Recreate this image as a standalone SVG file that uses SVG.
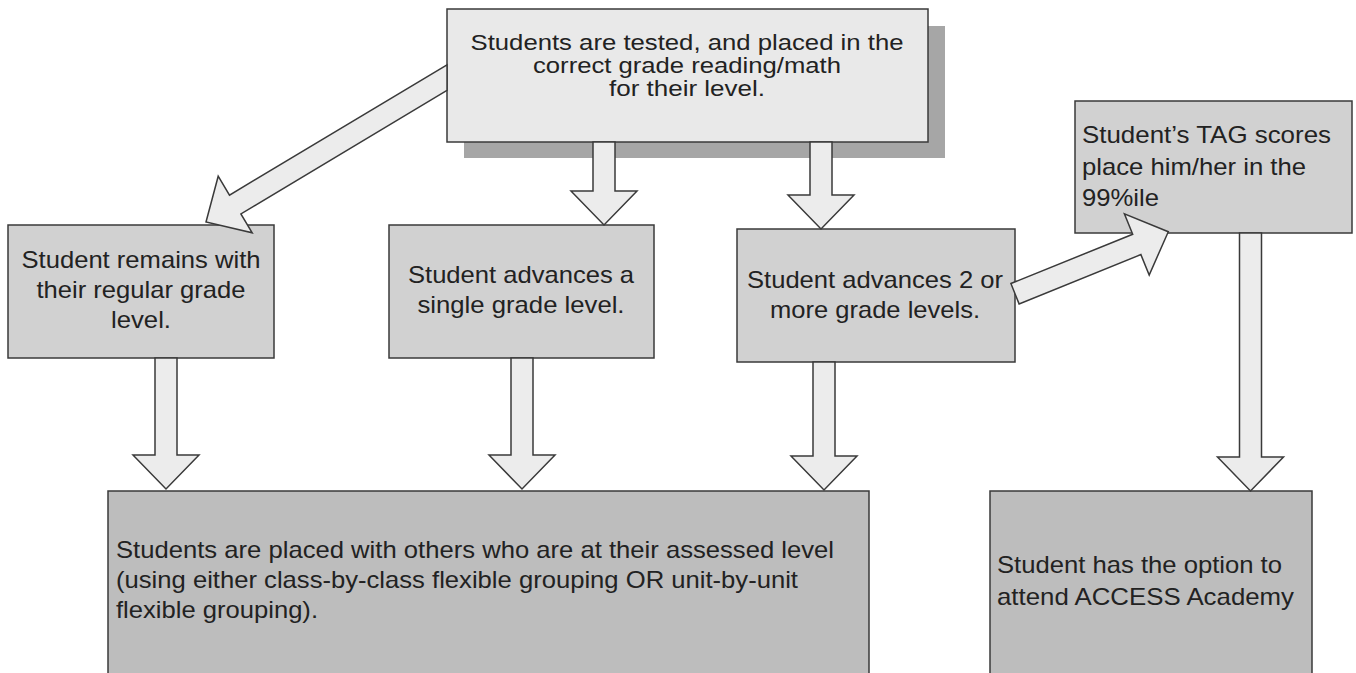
<svg xmlns="http://www.w3.org/2000/svg" width="1356" height="673" viewBox="0 0 1356 673">
<style>
.box{stroke:#3a3a3a;stroke-width:1.5}
.top{fill:#e9e9e9}
.mid{fill:#d1d1d1}
.low{fill:#bdbdbd}
.shadow{fill:#a6a6a6}
.arrow{fill:#ececec;stroke:#3a3a3a;stroke-width:1.5;stroke-linejoin:miter}
text{font-family:"Liberation Sans",Arial,sans-serif;font-size:24px;fill:#222}
.t22{font-size:22px}
.c{text-anchor:middle}
</style>
<rect width="1356" height="673" fill="#ffffff"/>
<g id="node-tested">
<rect class="shadow" x="464" y="26" width="481" height="132"/>
<rect class="box top" x="447" y="9" width="481" height="133"/>
<text class="t22 c" x="687" y="50" textLength="433" lengthAdjust="spacingAndGlyphs">Students are tested, and placed in the</text>
<text class="t22 c" x="687" y="73" textLength="308" lengthAdjust="spacingAndGlyphs">correct grade reading/math</text>
<text class="t22 c" x="687" y="96" textLength="156" lengthAdjust="spacingAndGlyphs">for their level.</text>
</g>
<g id="node-remains">
<rect class="box mid" x="8" y="225" width="266" height="133"/>
<text class="c" x="141" y="268" textLength="239" lengthAdjust="spacingAndGlyphs">Student remains with</text>
<text class="c" x="141" y="298" textLength="209" lengthAdjust="spacingAndGlyphs">their regular grade</text>
<text class="c" x="141" y="328" textLength="60" lengthAdjust="spacingAndGlyphs">level.</text>
</g>
<g id="node-single">
<rect class="box mid" x="389" y="225" width="265" height="133"/>
<text class="c" x="521" y="283" textLength="226" lengthAdjust="spacingAndGlyphs">Student advances a</text>
<text class="c" x="521" y="313" textLength="207" lengthAdjust="spacingAndGlyphs">single grade level.</text>
</g>
<g id="node-two">
<rect class="box mid" x="737" y="229" width="278" height="133"/>
<text class="c" x="875" y="288" textLength="256" lengthAdjust="spacingAndGlyphs">Student advances 2 or</text>
<text class="c" x="875" y="318" textLength="210" lengthAdjust="spacingAndGlyphs">more grade levels.</text>
</g>
<g id="node-tag">
<rect class="box mid" x="1075" y="101" width="277" height="132"/>
<text x="1082" y="143" textLength="249" lengthAdjust="spacingAndGlyphs">Student’s TAG scores</text>
<text x="1082" y="175" textLength="224" lengthAdjust="spacingAndGlyphs">place him/her in the</text>
<text x="1082" y="206" textLength="77" lengthAdjust="spacingAndGlyphs">99%ile</text>
</g>
<g id="node-placed">
<rect class="box low" x="108" y="491" width="761" height="190"/>
<text x="116" y="558" textLength="718" lengthAdjust="spacingAndGlyphs">Students are placed with others who are at their assessed level</text>
<text x="116" y="588" textLength="682" lengthAdjust="spacingAndGlyphs">(using either class-by-class flexible grouping OR unit-by-unit</text>
<text x="116" y="618" textLength="202" lengthAdjust="spacingAndGlyphs">flexible grouping).</text>
</g>
<g id="node-access">
<rect class="box low" x="990" y="491" width="322" height="190"/>
<text x="997" y="573" textLength="285" lengthAdjust="spacingAndGlyphs">Student has the option to</text>
<text x="997" y="605" textLength="297" lengthAdjust="spacingAndGlyphs">attend ACCESS Academy</text>
</g>
<g id="connectors">
<polygon class="arrow" points="447,64.8 229.5,195.1 218.2,176.2 206,222 252.2,232.8 240.9,213.9 447,90.4"/>
<polygon class="arrow" points="593,142 615,142 615,191 637,191 604,225 571,191 593,191"/>
<polygon class="arrow" points="810,142 832,142 832,195 854,195 821,229 788,195 810,195"/>
<polygon class="arrow" points="1010.9,283.5 1132.7,234.3 1124.4,213.9 1168.3,231.7 1149.2,275 1140.9,254.6 1019.1,303.9"/>
<polygon class="arrow" points="155,358 177,358 177,455 199,455 166,489 133,455 155,455"/>
<polygon class="arrow" points="511,358 533,358 533,455 555,455 522,489 489,455 511,455"/>
<polygon class="arrow" points="813,362 835,362 835,456 857,456 824,490 791,456 813,456"/>
<polygon class="arrow" points="1239.5,233 1261.5,233 1261.5,457 1283.5,457 1250.5,491 1217.5,457 1239.5,457"/>
</g>
</svg>
